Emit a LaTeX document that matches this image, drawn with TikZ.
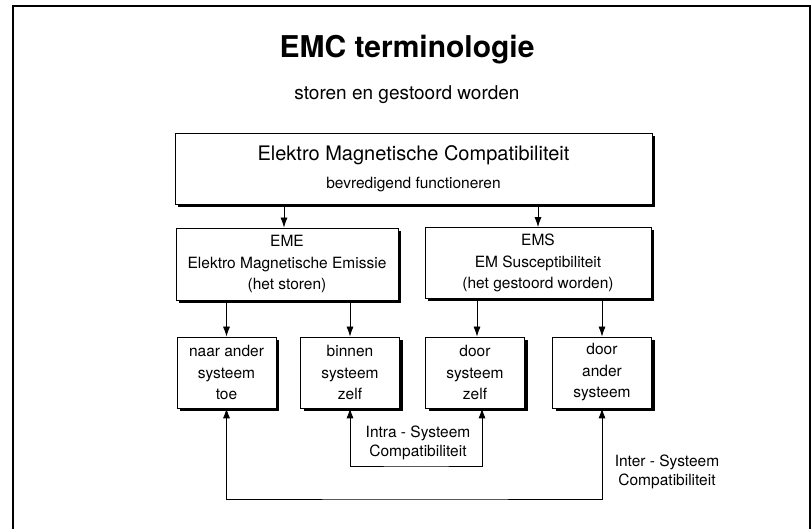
\documentclass[tikz,border=0pt]{standalone}
\usepackage{fontspec}
\setmainfont{TeX Gyre Heros}
\usetikzlibrary{arrows.meta,shadows}

\tikzset{
  box/.style={draw, line width=0.8pt, fill=white, align=center, inner sep=0pt,
    font=\fontsize{15.5}{21.5}\selectfont,
    drop shadow={shadow xshift=3pt, shadow yshift=-3pt, fill=black, opacity=1}},
  smallbox/.style={box, minimum width=99pt, minimum height=71pt},
  note/.style={align=center, font=\fontsize{15.5}{19.5}\selectfont},
}

\begin{document}
\begin{tikzpicture}[x=1pt,y=-1pt,>={Latex[length=10pt,width=7pt]},line width=0.8pt]
  \useasboundingbox (0,0) rectangle (812,529);
  % frame
  \draw[line width=1.6pt] (13,529) -- (13,6) -- (810,6) -- (810,529);

  \node (title) at (407,50) {\fontsize{30}{36}\selectfont\bfseries EMC terminologie};
  \node (sub) at (407,95) {\fontsize{19}{24}\selectfont storen en gestoord worden};

  % top box
  \node[box, minimum width=477pt, minimum height=71pt] (emc) at (413.5,168.5)
    {{\fontsize{20}{24}\selectfont Elektro Magnetische Compatibiliteit}\\[6pt]
     bevredigend functioneren};

  \node[box, minimum width=222pt, minimum height=72pt] (eme) at (287,264)
    {EME\\Elektro Magnetische Emissie\\(het storen)};
  \node[box, minimum width=226pt, minimum height=71pt] (ems) at (538,263)
    {EMS\\EM Susceptibiliteit\\(het gestoord worden)};

  \node[smallbox] (naar) at (226.5,372.5) {naar ander\\systeem\\toe};
  \node[smallbox] (binnen) at (350,372.5) {binnen\\systeem\\zelf};
  \node[smallbox] (doorzelf) at (475,372.5) {door\\systeem\\zelf};
  \node[smallbox] (doorander) at (602,372.5) {door\\ander\\systeem};

  \draw[->] ([xshift=-3pt]eme.north |- emc.south) -- ([xshift=-3pt]eme.north);
  \draw[->] (ems.north |- emc.south) -- (ems.north);
  \draw[->] (naar.north |- eme.south) -- (naar.north);
  \draw[->] (binnen.north |- eme.south) -- (binnen.north);
  \draw[->] ([xshift=2pt]doorzelf.north |- ems.south) -- ([xshift=2pt]doorzelf.north);
  \draw[->] (doorander.north |- ems.south) -- (doorander.north);

  % compatibiliteit
  \coordinate (intra) at (416,466);
  \coordinate (inter) at (416,499);
  \draw[<->] (binnen.south) |- (intra) -| ([xshift=7pt]doorzelf.south);
  \draw[<->] (naar.south) |- (inter) -| (doorander.south);

  \node[note] (intralabel) at (418,443) {Intra - Systeem\\Compatibiliteit};
  \node[note] (interlabel) at (667,472) {Inter - Systeem\\Compatibiliteit};
\end{tikzpicture}
\end{document}
